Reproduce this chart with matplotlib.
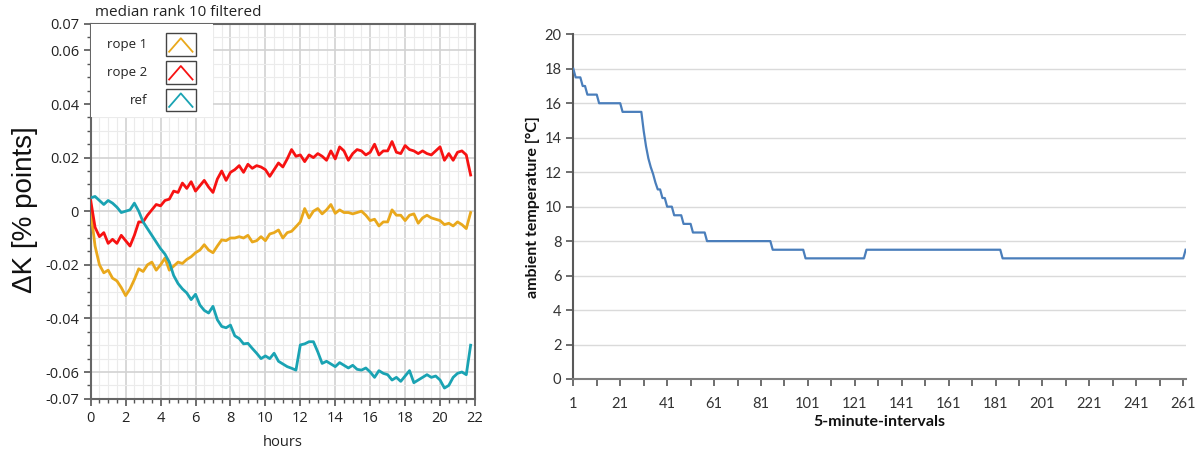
import numpy as np
import matplotlib
matplotlib.use("Agg")
import matplotlib.pyplot as plt
from matplotlib.patches import Rectangle
from matplotlib.ticker import MultipleLocator, FixedLocator

# ---------------- data: left panel (values in 1/1000 % points) ----------------
hours = np.arange(0, 21.76, 0.25)

rope1_milli = [0, -13, -20, -23, -22, -25, -26, -28.5, -31.5, -29, -25.5, -21.5,
               -22.5, -20, -19, -22, -20, -17.5, -22, -20.5, -19, -19.5, -18, -17,
               -15.5, -14.5, -12.5, -14.5, -15.5, -13, -10.7, -11, -10, -10, -9.5, -10,
               -9, -11.5, -11, -9.5, -11, -8.5, -8, -7, -10, -8, -7.5, -5.8,
               -4, 1, -2.5, 0, 1, -1, 0.5, 2.5, -0.8, 0.5, -0.5, -0.5,
               -1, -0.5, 0, -1.5, -3.5, -3, -5.5, -4, -4, 0.5, -1.5, -1.5,
               -3.5, -1.5, -1, -4.5, -2.5, -1.5, -2.5, -3, -3.5, -5, -4.5, -5.5,
               -4, -5, -6.5, -0.5]

rope2_milli = [4, -6, -9.5, -8, -12, -10.5, -12, -9, -11, -13, -9, -4,
               -4, -1.5, 0.5, 2.5, 2, 4, 4.5, 7.5, 7, 10.5, 8.5, 11,
               7.5, 9.5, 11.5, 9, 7, 12, 15, 11.5, 14.5, 15.5, 17, 14.5,
               17.5, 16, 17, 16.5, 15.5, 13, 15.5, 18, 16.5, 19.5, 23, 20.5,
               21, 18.5, 21, 20, 21.5, 20.5, 19, 22.5, 19.5, 24, 22.5, 19,
               21.5, 23, 22.5, 21, 22, 25, 21, 22.5, 22.5, 26, 22, 21.5,
               24.5, 23, 22.5, 21.5, 22.5, 21.5, 21, 22.5, 24, 19, 21.5, 19,
               22, 22.5, 21, 13.5]

ref_milli = [5, 5.5, 4, 2.5, 4, 3, 1.5, -0.5, 0, 0.5, 3, 0,
             -4, -6.5, -9, -11.5, -14, -16, -19, -24, -27, -29, -30.5, -33,
             -31, -35, -37, -38, -35.5, -40.5, -43, -43.5, -42.5, -46.5, -47.5, -49.5,
             -49.3, -51.2, -53, -55, -54, -55, -53, -56, -57, -58, -58.6, -59.3,
             -49.9, -49.5, -48.7, -48.7, -52.5, -56.8, -56, -57, -58, -56.5, -57.5, -58.5,
             -57.5, -59, -59.3, -58.5, -60, -62, -59.5, -60.5, -61, -63, -62, -63.5,
             -61.5, -59.5, -64, -63, -62, -61, -62, -61.5, -63, -66, -65, -62,
             -60.5, -60, -61, -50]

series_names = ["rope 1", "rope 2", "ref"]
series_colors = ["#E9A81C", "#F71212", "#1AA3B3"]

left_yticks = [-0.07, -0.06, -0.04, -0.02, 0.0, 0.02, 0.04, 0.06, 0.07]
left_yticklabels = ["-0.07", "-0.06", "-0.04", "-0.02", "0", "0.02", "0.04", "0.06", "0.07"]

# ---------------- data: right panel ----------------
temp_levels = [18.0, 17.5, 17.0, 16.5, 16.0, 15.5, 14.4, 13.5, 12.8, 12.3, 11.9, 11.4,
               11.0, 10.5, 10.0, 9.5, 9.0, 8.5, 8.0, 7.5, 7.0, 7.5, 7.0, 7.5]
temp_runs = [1, 3, 2, 5, 10, 9, 1, 1, 1, 1, 1, 1,
             2, 2, 3, 4, 4, 6, 28, 14, 26, 58, 78, 1]
temperature = np.repeat(temp_levels, temp_runs)
intervals = np.arange(1, len(temperature) + 1)
right_xticks = list(range(1, 262, 20))

# ---------------- figure ----------------
fig = plt.figure(figsize=(11.97, 4.5), dpi=100)

# ---- left panel ----
axL = fig.add_axes([90.7 / 1197, 1 - 398.8 / 450, 384.3 / 1197, 375.2 / 450])
for vals, c in zip([rope1_milli, rope2_milli, ref_milli], series_colors):
    axL.plot(hours, np.array(vals) / 1000.0, color=c, lw=2.0, zorder=3)

axL.set_xlim(0, 22)
axL.set_ylim(-0.07, 0.07)
axL.xaxis.set_major_locator(MultipleLocator(2))
axL.xaxis.set_minor_locator(MultipleLocator(0.5))
axL.yaxis.set_major_locator(FixedLocator(left_yticks))
axL.set_yticklabels(left_yticklabels)
axL.yaxis.set_minor_locator(MultipleLocator(0.005))
axL.grid(True, which="minor", color="#EBEBEB", lw=0.8, zorder=0)
axL.grid(True, which="major", color="#D2D2D2", lw=1.2, zorder=1)
axL.tick_params(axis="both", which="major", direction="out", length=5, width=1.2,
                color="#555555", labelsize=10.5, labelcolor="#222222")
axL.tick_params(axis="both", which="minor", direction="out", length=3, width=1.0,
                color="#555555")
for lab in axL.get_xticklabels() + axL.get_yticklabels():
    lab.set_fontfamily("Open Sans")
for sp in axL.spines.values():
    sp.set_color("#666666")
    sp.set_linewidth(1.5)
axL.set_xlabel("hours", fontfamily="Open Sans", fontsize=10.5, color="#222222", labelpad=7)
fig.text(95 / 1197, 1 - 12 / 450, "median rank 10 filtered", fontfamily="Open Sans",
         fontsize=11, color="#222222", ha="left", va="center")
fig.text(25 / 1197, 1 - 210 / 450, "ΔK [% points]", fontfamily="Liberation Sans",
         fontsize=20, rotation=90, ha="center", va="center", color="#111111")

# legend drawn by hand
axL.add_patch(Rectangle((0.0, 0.751), 0.318, 0.249, transform=axL.transAxes,
                        facecolor="white", edgecolor="none", zorder=4))
row_y = [0.943, 0.869, 0.796]
for name, c, yy in zip(series_names, series_colors, row_y):
    axL.text(0.147, yy, name, transform=axL.transAxes, ha="right", va="center",
             fontfamily="Open Sans", fontsize=9.5, color="#222222", zorder=5)
    axL.add_patch(Rectangle((0.196, yy - 0.03), 0.077, 0.061, transform=axL.transAxes,
                            facecolor="white", edgecolor="#444444", lw=1.0, zorder=5))
    axL.plot([0.204, 0.2345, 0.265], [yy - 0.018, yy + 0.018, yy - 0.018],
             transform=axL.transAxes, color=c, lw=1.3, zorder=6)

# ---- right panel ----
axR = fig.add_axes([573.3 / 1197, 1 - 379 / 450, 612.3 / 1197, 344.7 / 450])
axR.plot(intervals, temperature, color="#4A7EBB", lw=1.6, zorder=3)
axR.set_xlim(1, len(temperature))
axR.set_ylim(0, 20)
axR.xaxis.set_major_locator(FixedLocator(right_xticks))
axR.xaxis.set_minor_locator(MultipleLocator(20, offset=11))
axR.yaxis.set_major_locator(MultipleLocator(2))
axR.grid(True, axis="y", color="#DADADA", lw=1.0, zorder=0)
axR.tick_params(axis="both", which="major", direction="out", length=5, width=1.2,
                color="#555555", labelsize=10.5, labelcolor="#333333")
axR.tick_params(axis="x", which="minor", direction="out", length=5, width=1.2, color="#555555")
axR.tick_params(axis="x", pad=8)
for lab in axR.get_xticklabels() + axR.get_yticklabels():
    lab.set_fontfamily("Lato")
axR.spines["top"].set_visible(False)
axR.spines["right"].set_visible(False)
axR.spines["left"].set_color("#595959")
axR.spines["left"].set_linewidth(1.5)
axR.spines["bottom"].set_color("#7F7F7F")
axR.spines["bottom"].set_linewidth(1.5)
axR.set_xlabel("5-minute-intervals", fontfamily="Lato", fontweight="bold", fontsize=11.5,
               color="#111111", labelpad=3)
axR.set_ylabel("ambient temperature [°C]", fontfamily="Lato", fontweight="bold",
               fontsize=11.5, color="#111111", labelpad=3.5)

fig.savefig("out.png", dpi=100)
